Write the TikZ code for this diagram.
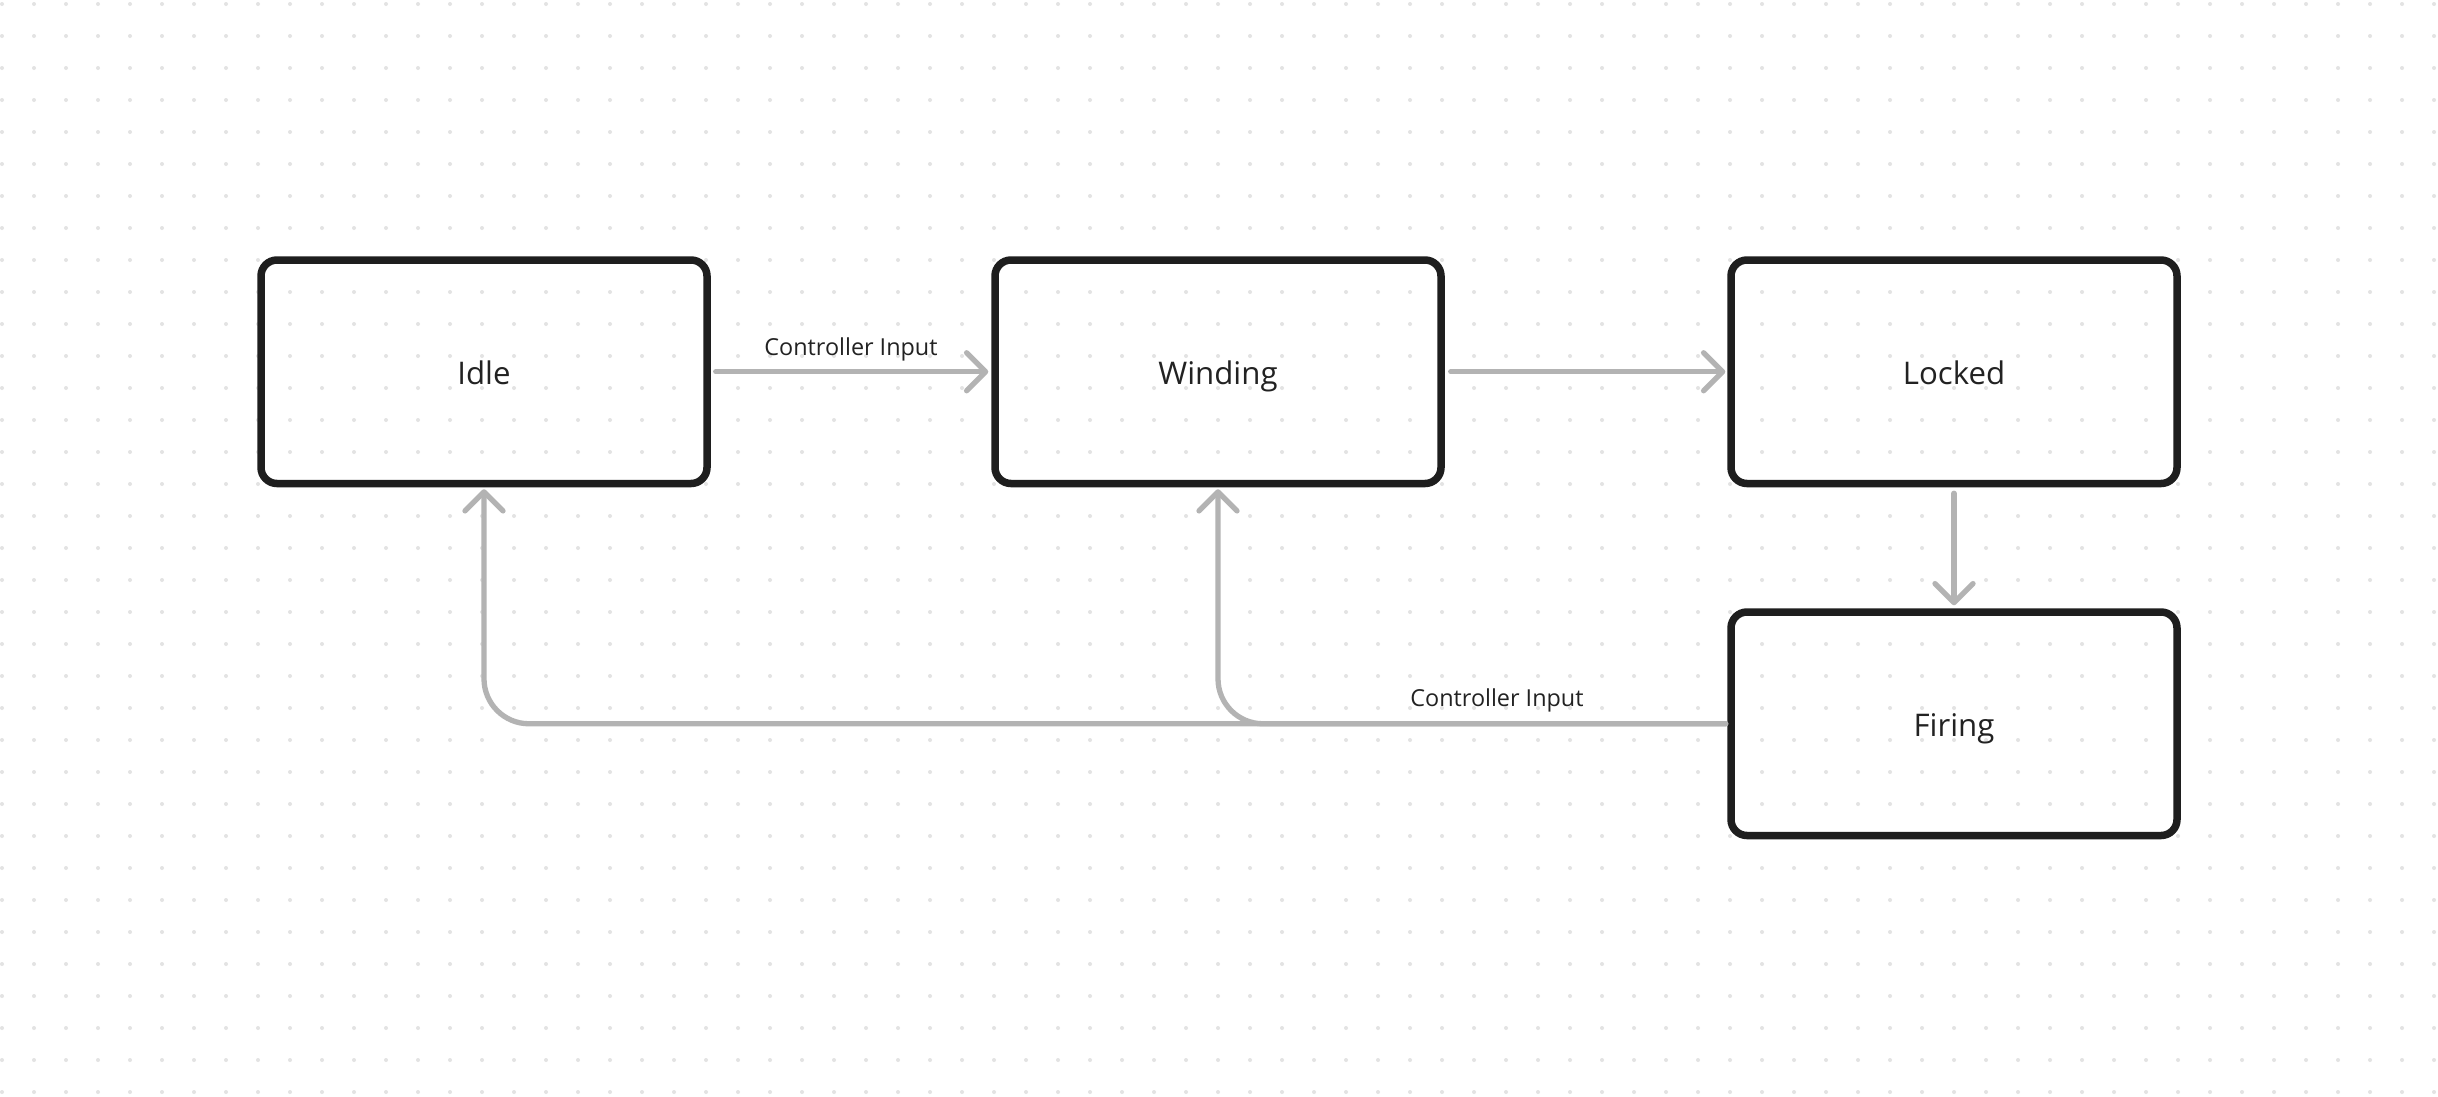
\documentclass[tikz,border=0pt]{standalone}
\usepackage{fontspec}
\setmainfont{Open Sans}
\usetikzlibrary{arrows.meta}
\definecolor{boxc}{HTML}{1E1E1E}
\definecolor{txtc}{HTML}{222222}
\definecolor{connc}{HTML}{B3B3B3}
\definecolor{dotc}{HTML}{E3E3E3}
\newcommand{\statefont}{\fontsize{31.2pt}{36pt}\selectfont}
\newcommand{\lblfont}{\fontsize{23.4pt}{28pt}\selectfont}
\tikzset{
  stateBox/.style={draw=boxc, line width=7.5pt, rounded corners=16pt,
    minimum width=446pt, minimum height=223.5pt, inner sep=0pt,
    text height=24.5pt, text depth=0pt, font=\statefont, text=txtc},
  conn/.style={draw=connc, line width=5.3pt, line cap=round, line join=round,
    -{Straight Barb[length=19pt,width=38pt,round]}},
  lbl/.style={font=\lblfont, text=txtc, inner sep=0pt, anchor=base}
}
\begin{document}
\begin{tikzpicture}[x=1pt,y=-1pt]
\useasboundingbox (0,0) rectangle (2438,1096);
\fill[white] (0,0) rectangle (2438,1096);
\foreach \i in {0,...,76}{
  \foreach \j in {0,...,34}{
    \fill[dotc] ({2+32*\i},{4+32*\j}) circle[radius=2pt];
  }
}
\node[stateBox] (I) at (484,371.75) {Idle};
\node[stateBox] (W) at (1218,371.75) {Winding};
\node[stateBox] (L) at (1954,371.75) {Locked};
\node[stateBox] (F) at (1954,723.75) {Firing};

\draw[conn, shorten <=5pt, shorten >=3pt] (I.east) -- node[lbl, pos=0.5, yshift=16.75pt] {Controller Input} (W.west);
\draw[conn, shorten <=6pt, shorten >=2pt] (W.east) -- (L.west);
\draw[conn, shorten <=6pt, shorten >=3pt] (L.south) -- (F.north);
\draw[conn, rounded corners=45pt, shorten <=1.5pt, shorten >=2pt] (F.west) -| node[lbl, pos=0.0926, yshift=17pt] {Controller Input} (I.south);
\draw[conn, rounded corners=45pt, shorten <=1.5pt, shorten >=2pt] (F.west) -| (W.south);
\end{tikzpicture}
\end{document}
